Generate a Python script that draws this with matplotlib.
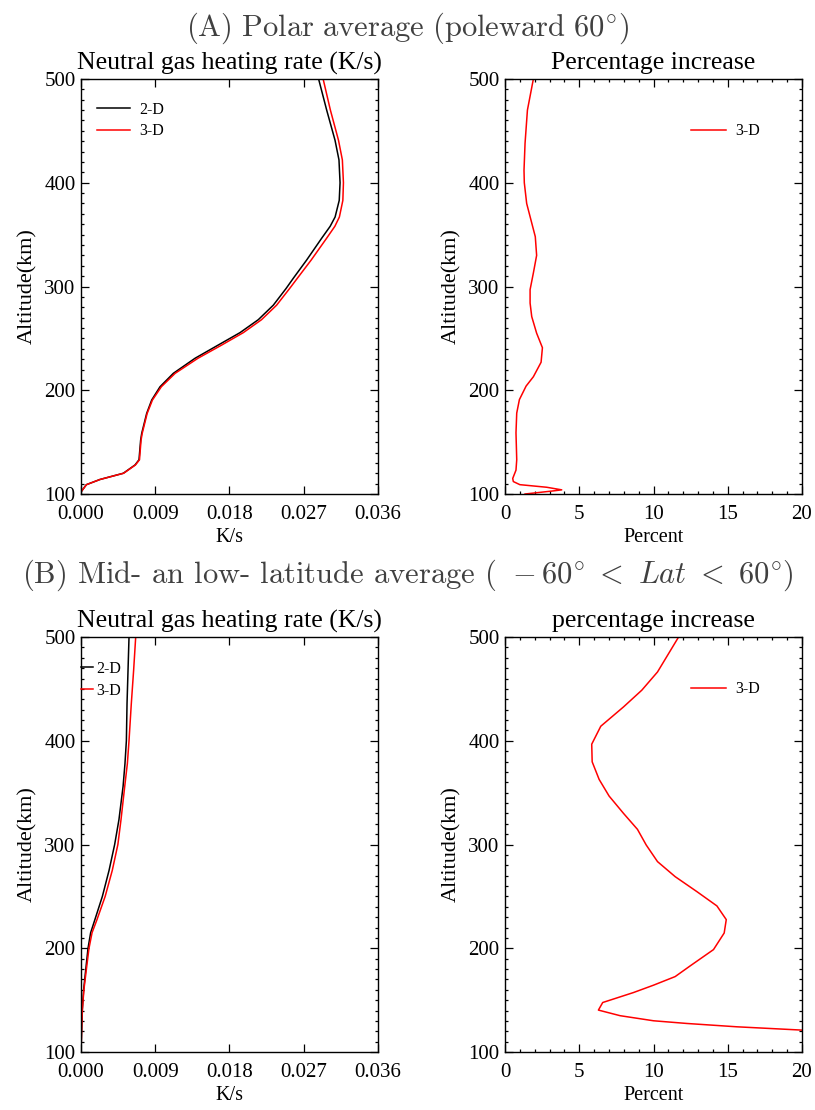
import matplotlib
matplotlib.use('Agg')
import matplotlib.pyplot as plt
from matplotlib.ticker import MultipleLocator

plt.rcParams['font.family'] = ['Liberation Serif', 'DejaVu Serif']
plt.rcParams['mathtext.fontset'] = 'cm'

# (A) polar average, heating rate (K/s) vs altitude (km)
alt_polar = [500, 470, 441, 422, 400, 383, 367, 358, 346.5, 325.5, 308, 298, 282,
             268, 255.5, 243.6, 230.8, 216.3, 203.4, 190.6, 177.7, 158.5, 152,
             133, 128, 120, 114, 109, 102]
heat_2d_polar = [0.02880, 0.02978, 0.03079, 0.03127, 0.03140, 0.03130, 0.03080,
                 0.03020, 0.02917, 0.02735, 0.02574, 0.02485, 0.02331, 0.02149,
                 0.01927, 0.01664, 0.01382, 0.01119, 0.00958, 0.00857, 0.00796,
                 0.00736, 0.00723, 0.00703, 0.00655, 0.00513, 0.00230, 0.00065,
                 0.0]
heat_3d_polar = [0.02935, 0.03023, 0.03121, 0.03168, 0.03181, 0.03174, 0.03132,
                 0.03077, 0.02977, 0.02790, 0.02623, 0.02528, 0.02371, 0.02188,
                 0.01967, 0.01706, 0.01417, 0.01141, 0.00974, 0.00866, 0.00802,
                 0.00742, 0.00728, 0.00709, 0.00660, 0.00517, 0.00231, 0.00066,
                 0.0]

# (A) percentage increase 3-D over 2-D
alt_pct_polar = [500, 470, 438, 412, 400, 380, 364, 348, 330, 313, 297, 284, 271,
                 255, 241, 227, 213, 204, 191, 178, 159, 133, 123, 115, 112, 109,
                 106.5, 104, 103, 100]
pct_polar = [1.91, 1.51, 1.35, 1.28, 1.30, 1.46, 1.75, 2.04, 2.13, 1.91, 1.69,
             1.69, 1.80, 2.13, 2.52, 2.43, 1.91, 1.42, 0.97, 0.79, 0.74, 0.79,
             0.74, 0.52, 0.56, 1.0, 2.81, 3.82, 3.26, 1.35]

# (B) mid- and low-latitude average
alt_mid = [500, 468, 436, 400, 378, 356, 324, 300, 275, 250, 227, 215, 200, 179,
           160, 141, 121, 100]
heat_2d_mid = [0.00582, 0.00570, 0.00558, 0.00550, 0.00533, 0.00510, 0.00460,
               0.00408, 0.00340, 0.00259, 0.00166, 0.00117, 0.00085, 0.00057,
               0.00032, 0.00016, 0.00008, 0.0]
heat_3d_mid = [0.00663, 0.00638, 0.00610, 0.00582, 0.00562, 0.00530, 0.00485,
               0.00447, 0.00379, 0.00293, 0.00191, 0.00134, 0.00097, 0.00064,
               0.00035, 0.00017, 0.00008, 0.0]

alt_pct_mid = [500, 466.3, 448.7, 432.6, 414.0, 396.7, 379.7, 362.7, 346.7, 330.0,
               314.6, 299.5, 283.5, 269.0, 254.6, 240.8, 227.6, 214.7, 198.7,
               183.0, 172.7, 164.4, 157.3, 147.7, 140.4, 135.0, 130.1, 127.5,
               124.3, 121.1, 119.0]
pct_mid = [11.69, 10.27, 9.21, 7.98, 6.45, 5.84, 5.87, 6.34, 7.01, 7.98, 8.92,
           9.51, 10.27, 11.46, 12.92, 14.27, 14.90, 14.76, 14.04, 12.47, 11.46,
           10.0, 8.65, 6.58, 6.29, 7.75, 10.0, 12.25, 15.6, 20.0, 24.0]

W, H = 815, 1110
fig = plt.figure(figsize=(W / 100, H / 100), dpi=100)


def make_axes(x0, y0):
    # pixel box -> figure fraction
    return fig.add_axes([x0 / W, 1 - (y0 + 415) / H, 297 / W, 415 / H])


def style_axes(ax, xmax, xmajor, xminor, fmt):
    ax.set_ylim(100, 500)
    ax.set_xlim(0, xmax)
    ax.xaxis.set_major_locator(MultipleLocator(xmajor))
    if xminor:
        ax.xaxis.set_minor_locator(MultipleLocator(xminor))
    ax.yaxis.set_major_locator(MultipleLocator(100))
    ax.yaxis.set_minor_locator(MultipleLocator(10))
    if fmt:
        ax.xaxis.set_major_formatter(plt.FormatStrFormatter(fmt))
    ax.tick_params(which='both', direction='in', top=True, right=True,
                   labelsize=15, width=0.9)
    ax.tick_params(which='major', length=5.5)
    ax.tick_params(which='minor', length=2.5)
    ax.tick_params(axis='x', pad=8)
    ax.tick_params(axis='y', pad=4)
    for s in ax.spines.values():
        s.set_linewidth(1.0)
    ax.set_ylabel('Altitude(km)', fontsize=16, labelpad=5)


# -------- (A) --------
ax1 = make_axes(81, 79)
ax1.plot(heat_2d_polar, alt_polar, color='black', lw=1.1, label='2-D')
ax1.plot(heat_3d_polar, alt_polar, color='red', lw=1.1, label='3-D')
style_axes(ax1, 0.036, 0.009, None, '%.3f')
ax1.set_xlabel('K/s', fontsize=14.5, labelpad=3)
ax1.set_title('Neutral gas heating rate (K/s)', fontsize=18.5, pad=7)
ax1.legend(loc='upper left', bbox_to_anchor=(0.054, 0.945), frameon=False,
           fontsize=11.5, handlelength=2.05, handletextpad=0.6, labelspacing=0.35,
           borderpad=0, borderaxespad=0)

ax2 = make_axes(505, 79)
ax2.plot(pct_polar, alt_pct_polar, color='red', lw=1.1, label='3-D')
style_axes(ax2, 20, 5, 1, None)
ax2.set_xlabel('Percent', fontsize=14.5, labelpad=3)
ax2.set_title('Percentage increase', fontsize=18.5, pad=7)
ax2.legend(loc='upper left', bbox_to_anchor=(0.626, 0.893), frameon=False,
           fontsize=11.5, handlelength=2.2, handletextpad=0.6,
           borderpad=0, borderaxespad=0)

# -------- (B) --------
ax3 = make_axes(81, 637)
ax3.plot(heat_2d_mid, alt_mid, color='black', lw=1.1, label='2-D')
ax3.plot(heat_3d_mid, alt_mid, color='red', lw=1.1, label='3-D')
style_axes(ax3, 0.036, 0.009, None, '%.3f')
ax3.set_xlabel('K/s', fontsize=14.5, labelpad=3)
ax3.set_title('Neutral gas heating rate (K/s)', fontsize=18.5, pad=7)
ax3.legend(loc='upper left', bbox_to_anchor=(0.0, 0.942), frameon=False,
           fontsize=11.5, handlelength=0.75, handletextpad=0.2, labelspacing=0.35,
           borderpad=0, borderaxespad=0)

ax4 = make_axes(505, 637)
ax4.plot(pct_mid, alt_pct_mid, color='red', lw=1.1, label='3-D')
style_axes(ax4, 20, 5, 1, None)
ax4.set_xlabel('Percent', fontsize=14.5, labelpad=3)
ax4.set_title('percentage increase', fontsize=18.5, pad=7)
ax4.legend(loc='upper left', bbox_to_anchor=(0.626, 0.893), frameon=False,
           fontsize=11.5, handlelength=2.2, handletextpad=0.6,
           borderpad=0, borderaxespad=0)

fig.text(0.5, 1 - 28 / H, r'$\mathrm{(A)\ Polar\ average\ (poleward\ 60^{\circ})}$',
         ha='center', va='center', fontsize=22, color='#404040')
fig.text(0.5, 1 - 575 / H,
         r'$\text{(B) Mid- an low- latitude average ( }-60^{\circ}\ <\ Lat\ <\ 60^{\circ})$',
         ha='center', va='center', fontsize=22, color='#404040')

fig.savefig('out.png', dpi=100)
